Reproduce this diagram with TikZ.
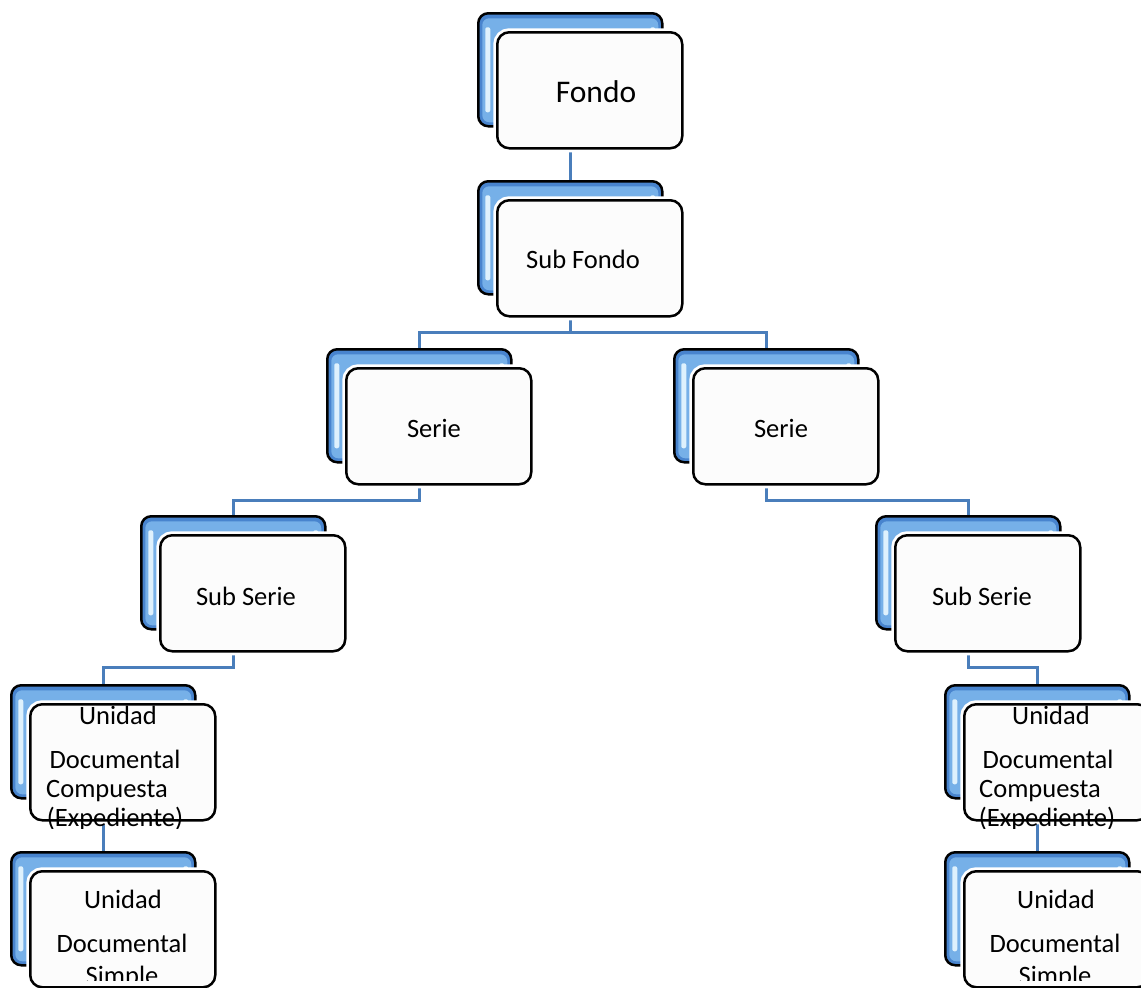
\documentclass[tikz,border=0pt]{standalone}
\usepackage{fontspec}
\setmainfont{Carlito}
\usetikzlibrary{calc}
\pgfdeclarelayer{bg}
\pgfdeclarelayer{paper}
\pgfsetlayers{paper,bg,main}
\definecolor{conn}{RGB}{74,126,187}
\definecolor{bbase}{RGB}{72,132,206}
\definecolor{binner}{RGB}{118,176,232}
\definecolor{bhigh}{RGB}{222,241,253}
\definecolor{ffill}{RGB}{252,252,252}
\tikzset{
  backbox/.style={draw=black, line width=2.5pt, fill=bbase, rounded corners=10pt,
    minimum width=184pt, minimum height=113pt, inner sep=0pt, anchor=north west,
    path picture={
      \fill[binner, rounded corners=7pt]
        ([shift={(4pt,-5pt)}]path picture bounding box.north west) rectangle
        ([shift={(-4pt,4pt)}]path picture bounding box.south east);
      \fill[bhigh, rounded corners=2pt]
        ([shift={(7pt,-14pt)}]path picture bounding box.north west) rectangle
        ([shift={(12pt,14pt)}]path picture bounding box.south west);
      \fill[bhigh, rounded corners=2pt]
        ([shift={(-12pt,-14pt)}]path picture bounding box.north east) rectangle
        ([shift={(-7pt,-40pt)}]path picture bounding box.north east);
    }},
  frontbox/.style={draw=black, line width=2.5pt, fill=ffill, rounded corners=12pt,
    minimum width=185pt, minimum height=116pt, inner sep=0pt, anchor=north west,
    preaction={draw=white, line width=8pt}},
  conline/.style={draw=conn, line width=3pt},
  lbl/.style={font=\fontsize{26.5}{30}\selectfont, inner sep=0pt, anchor=base},
  bigLbl/.style={font=\fontsize{31.5}{36}\selectfont, inner sep=0pt, anchor=base},
}
\newcommand{\mkunit}[3]{%
  \node[backbox] (#1B) at (#2,#3) {};
  \node[frontbox] (#1F) at ($(#2,#3)+(19,19)$) {};
}
\begin{document}
\begin{tikzpicture}[x=1pt,y=-1pt]
\begin{pgfonlayer}{paper}
  \fill[white] (0,0) rectangle (1141,988);
\end{pgfonlayer}
\useasboundingbox (0,0) rectangle (1141,988);

\mkunit{fondo}{477}{12}
\mkunit{subfondo}{477}{180}
\mkunit{serieL}{326}{348}
\mkunit{serieR}{673}{348}
\mkunit{subserieL}{140}{515}
\mkunit{subserieR}{875}{515}
\mkunit{udcL}{10}{684}
\mkunit{udcR}{944}{684}
\mkunit{udsL}{10}{851}
\mkunit{udsR}{944}{851}

\begin{pgfonlayer}{bg}
  \draw[conline] (fondoB.center |- fondoF.south) -- (subfondoB.north);
  \draw[conline] (subfondoB.center |- subfondoF.south) -- ++(0,15) -| (serieLB.north);
  \draw[conline] (subfondoB.center |- subfondoF.south) -- ++(0,15) -| (serieRB.north);
  \draw[conline] (serieLB.center |- serieLF.south) -- ++(0,15) -| (subserieLB.north);
  \draw[conline] (serieRB.center |- serieRF.south) -- ++(0,15) -| (subserieRB.north);
  \draw[conline] (subserieLB.center |- subserieLF.south) -- ++(0,15) -| (udcLB.north);
  \draw[conline] (subserieRB.center |- subserieRF.south) -- ++(0,15) -| (udcRB.north);
  \draw[conline] (udcLB.center |- udcLF.south) -- (udsLB.north);
  \draw[conline] (udcRB.center |- udcRF.south) -- (udsRB.north);
\end{pgfonlayer}

\node[bigLbl] (fondoT) at (596,102) {Fondo};
\node[lbl] (subfondoT) at (583,268) {Sub Fondo};
\node[lbl] (serieLT) at (434,437) {Serie};
\node[lbl] (serieRT) at (781,437) {Serie};
\node[lbl] (subserieLT) at (246,605) {Sub Serie};
\node[lbl] (subserieRT) at (982,605) {Sub Serie};

\begin{scope}
  \clip (0,0) rectangle (1141,828);
  \node[lbl] (udcLa) at (118,724) {Unidad};
  \node[lbl] (udcLb) at (115,768) {Documental};
  \node[lbl] (udcLc) at (107,797) {Compuesta};
  \node[lbl] (udcLd) at (115,826) {(Expediente)};
  \node[lbl] (udcRa) at (1051,724) {Unidad};
  \node[lbl] (udcRb) at (1048,768) {Documental};
  \node[lbl] (udcRc) at (1040,797) {Compuesta};
  \node[lbl] (udcRd) at (1047,826) {(Expediente)};
\end{scope}
\begin{scope}
  \clip (0,0) rectangle (1141,980);
  \node[lbl] (udsLa) at (123,908) {Unidad};
  \node[lbl] (udsLb) at (122,952) {Documental};
  \node[lbl] (udsLc) at (122,984) {Simple};
  \node[lbl] (udsRa) at (1056,908) {Unidad};
  \node[lbl] (udsRb) at (1055,952) {Documental};
  \node[lbl] (udsRc) at (1055,984) {Simple};
\end{scope}
\end{tikzpicture}
\end{document}
